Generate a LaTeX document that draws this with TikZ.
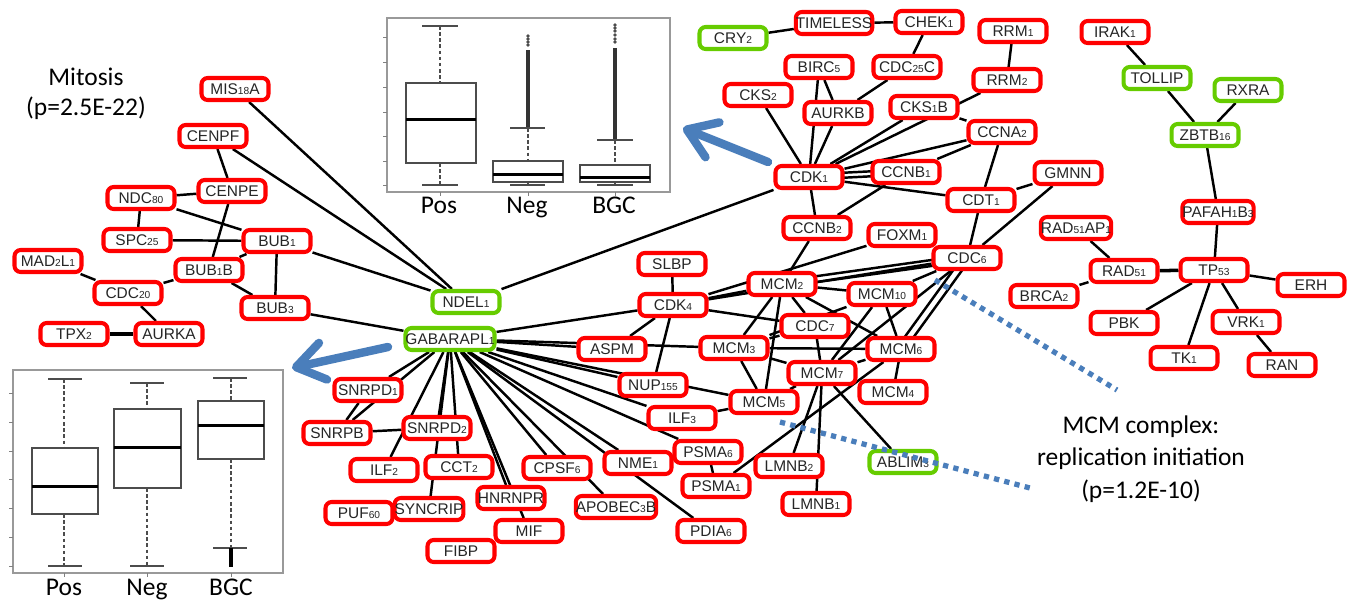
\documentclass[tikz,border=0pt]{standalone}
\usepackage{fontspec}
\setmainfont{Liberation Sans}
\newfontfamily\calfont{Carlito}
\usetikzlibrary{arrows.meta}
\definecolor{nred}{RGB}{255,0,0}
\definecolor{ngreen}{RGB}{102,204,0}
\definecolor{ablue}{RGB}{74,126,187}
\newcommand\dg[1]{{\fontsize{5.8}{6}\selectfont #1}}
\pgfdeclarelayer{bg}
\pgfsetlayers{bg,main}
\tikzset{
  gene/.style={draw=nred, line width=2.3pt, rounded corners=3.5pt, fill=white,
    minimum width=1.34cm, minimum height=0.44cm, inner sep=0pt,
    font=\fontsize{8.8}{10}\selectfont, text=black!85},
  ggene/.style={gene, draw=ngreen},
  edge/.style={line width=1.4pt, black},
  big/.style={font=\calfont\fontsize{14.5}{17}\selectfont, anchor=base},
  barrow/.style={ablue, line width=4.8pt, line cap=round,
    -{Straight Barb[length=5.5mm,width=7.5mm,line cap=round,line join=round]}},
  dots/.style={ablue, line width=3pt, dash pattern=on 3pt off 3pt},
  bframe/.style={draw=black!40, line width=0.7pt},
  bline/.style={black!70, line width=0.7pt},
  med/.style={black, line width=1.7pt},
  whisk/.style={black!70, line width=0.7pt, dash pattern=on 2pt off 1.5pt},
}
\begin{document}
\begin{tikzpicture}[x=0.02cm,y=-0.02cm]
\path[use as bounding box] (0,0) rectangle (1352,603);

% ---------- box plots ----------
% top
\draw[bframe] (387,18) rectangle (670,192);
\foreach \yy in {185,161,136,112,87,62,37} \draw[black!50,line width=0.5pt] (383,\yy) -- (387,\yy);
\foreach \xx in {440,528,615} \draw[black!50,line width=0.5pt] (\xx,192) -- (\xx,196);
\draw[whisk] (440,26) -- (440,83) (440,163) -- (440,185);
\draw[bline] (422,26) -- (458,26) (422,185) -- (458,185);
\draw[bline,fill=white] (406,83) rectangle (476,163);
\draw[med] (406,119) -- (476,119);
\draw[line width=1.8pt,black!80] (528,50) -- (528,128);
\foreach \yy in {36,39,42,45} \fill[black!70] (528,\yy) circle (1.1pt);
\draw[whisk] (528,128) -- (528,161);
\draw[bline] (510,128) -- (545,128) (510,185) -- (545,185) (528,182) -- (528,185);
\draw[bline,fill=white] (493,161) rectangle (563,182);
\draw[med] (493,174) -- (563,174);
\draw[line width=1.8pt,black!80] (615,48) -- (615,140);
\foreach \yy in {25,28,31,35,39,42} \fill[black!70] (615,\yy) circle (1.1pt);
\draw[whisk] (615,140) -- (615,165);
\draw[bline] (597,140) -- (633,140) (597,185) -- (633,185) (615,182) -- (615,185);
\draw[bline,fill=white] (580,165) rectangle (650,182);
\draw[med] (580,177) -- (650,177);
\node[big] (tpos) at (439,213) {Pos};
\node[big] (tneg) at (527,213) {Neg};
\node[big] (tbgc) at (614,213) {BGC};

% bottom
\draw[bframe] (13,370) rectangle (283,573);
\foreach \yy in {393,422,451,479,508,537,566} \draw[black!50,line width=0.5pt] (9,\yy) -- (13,\yy);
\foreach \xx in {64,147,231} \draw[black!50,line width=0.5pt] (\xx,573) -- (\xx,577);
\draw[whisk] (64,379) -- (64,448) (64,514) -- (64,566);
\draw[bline] (48,379) -- (82,379) (48,566) -- (82,566);
\draw[bline,fill=white] (32,448) rectangle (98,514);
\draw[med] (32,486) -- (98,486);
\draw[whisk] (147,383) -- (147,409) (147,488) -- (147,566);
\draw[bline] (130,383) -- (164,383) (130,566) -- (164,566);
\draw[bline,fill=white] (114,409) rectangle (181,488);
\draw[med] (114,447) -- (181,447);
\draw[whisk] (231,378) -- (231,401) (231,459) -- (231,548);
\draw[bline] (213,378) -- (247,378) (213,548) -- (247,548);
\draw[bline,fill=white] (198,401) rectangle (264,459);
\draw[med] (198,425) -- (264,425);
\draw[black,line width=2.2pt] (231,548) -- (231,567);
\node[big] (bpos) at (64,595) {Pos};
\node[big] (bneg) at (147,595) {Neg};
\node[big] (bbgc) at (231,595) {BGC};

% ---------- labels ----------
\node[big] (mit1) at (86,85) {Mitosis};
\node[big] (mit2) at (86,115) {(p=2.5E-22)};
\node[big] (mcm1) at (1141,433) {MCM complex:};
\node[big] (mcm2) at (1141,465) {replication initiation};
\node[big] (mcm3) at (1141,498) {(p=1.2E-10)};

% ---------- genes ----------
\node[gene] (MIS18A) at (235,89) {MIS\dg{18}A};
\node[gene] (CENPF) at (213,136) {CENPF};
\node[gene] (CENPE) at (232,191) {CENPE};
\node[gene] (NDC80) at (141,198) {NDC\dg{80}};
\node[gene] (SPC25) at (137,240) {SPC\dg{25}};
\node[gene] (BUB1) at (277,241) {BUB\dg{1}};
\node[gene] (MAD2L1) at (48,261) {MAD\dg{2}L\dg{1}};
\node[gene] (BUB1B) at (209,270) {BUB\dg{1}B};
\node[gene] (CDC20) at (128,293) {CDC\dg{20}};
\node[gene] (BUB3) at (275,308) {BUB\dg{3}};
\node[gene] (TPX2) at (74,334) {TPX\dg{2}};
\node[gene] (AURKA) at (169,334) {AURKA};
\node[ggene] (NDEL1) at (466,302) {NDEL\dg{1}};
\node[ggene,minimum width=1.74cm] (GABARAPL1) at (450,339) {GABARAPL\dg{1}};
\node[gene] (ASPM) at (612,349) {ASPM};
\node[gene] (CDK4) at (673,305) {CDK\dg{4}};
\node[gene] (SLBP) at (672,264) {SLBP};
\node[gene] (NUP155) at (653,385) {NUP\dg{155}};
\node[gene] (ILF3) at (682,418) {ILF\dg{3}};
\node[gene] (MCM3) at (734,348) {MCM\dg{3}};
\node[gene] (MCM2) at (782,284) {MCM\dg{2}};
\node[gene] (CDC7) at (815,326) {CDC\dg{7}};
\node[gene] (MCM7) at (822,373) {MCM\dg{7}};
\node[gene] (MCM5) at (764,402) {MCM\dg{5}};
\node[gene] (MCM10) at (882,294) {MCM\dg{10}};
\node[gene] (MCM6) at (901,349) {MCM\dg{6}};
\node[gene] (MCM4) at (893,392) {MCM\dg{4}};
\node[gene] (FOXM1) at (902,235) {FOXM\dg{1}};
\node[gene] (CDC6) at (967,258) {CDC\dg{6}};
\node[gene] (BRCA2) at (1044,296) {BRCA\dg{2}};
\node[ggene] (ABLIM3) at (903,462) {ABLIM\dg{3}};
\node[gene] (LMNB2) at (789,466) {LMNB\dg{2}};
\node[gene] (LMNB1) at (816,504) {LMNB\dg{1}};
\node[gene] (PSMA6) at (708,452) {PSMA\dg{6}};
\node[gene] (PSMA1) at (716,486) {PSMA\dg{1}};
\node[gene] (NME1) at (638,463) {NME\dg{1}};
\node[gene] (PDIA6) at (711,531) {PDIA\dg{6}};
\node[gene,minimum width=1.5cm] (APOBEC3B) at (616,507) {APOBEC\dg{3}B};
\node[gene] (CPSF6) at (557,468) {CPSF\dg{6}};
\node[gene] (SNRPD1) at (368,390) {SNRPD\dg{1}};
\node[gene] (SNRPB) at (337,433) {SNRPB};
\node[gene] (SNRPD2) at (437,428) {SNRPD\dg{2}};
\node[gene] (ILF2) at (384,470) {ILF\dg{2}};
\node[gene] (CCT2) at (459,467) {CCT\dg{2}};
\node[gene] (HNRNPR) at (511,498) {HNRNPR};
\node[gene] (PUF60) at (359,513) {PUF\dg{60}};
\node[gene] (SYNCRIP) at (429,509) {SYNCRIP};
\node[gene] (FIBP) at (461,551) {FIBP};
\node[gene] (MIF) at (529,531) {MIF};
\node[ggene] (CRY2) at (733,38) {CRY\dg{2}};
\node[gene,minimum width=1.48cm] (TIMELESS) at (834,23) {TIMELESS};
\node[gene] (CHEK1) at (929,22) {CHEK\dg{1}};
\node[gene] (RRM1) at (1013,31) {RRM\dg{1}};
\node[gene] (BIRC5) at (819,67) {BIRC\dg{5}};
\node[gene] (CDC25C) at (907,67) {CDC\dg{25}C};
\node[gene] (RRM2) at (1007,80) {RRM\dg{2}};
\node[gene] (CKS2) at (758,95) {CKS\dg{2}};
\node[gene] (AURKB) at (838,113) {AURKB};
\node[gene] (CKS1B) at (924,107) {CKS\dg{1}B};
\node[gene] (CCNA2) at (1002,132) {CCNA\dg{2}};
\node[gene] (CDK1) at (809,177) {CDK\dg{1}};
\node[gene] (CCNB1) at (906,172) {CCNB\dg{1}};
\node[gene] (CDT1) at (981,200) {CDT\dg{1}};
\node[gene] (GMNN) at (1068,173) {GMNN};
\node[gene] (CCNB2) at (817,228) {CCNB\dg{2}};
\node[gene] (RAD51AP1) at (1076,228) {RAD\dg{51}AP\dg{1}};
\node[gene] (IRAK1) at (1115,32) {IRAK\dg{1}};
\node[ggene] (TOLLIP) at (1157,78) {TOLLIP};
\node[ggene] (RXRA) at (1248,90) {RXRA};
\node[ggene] (ZBTB16) at (1205,135) {ZBTB\dg{16}};
\node[gene] (PAFAH1B3) at (1218,212) {PAFAH\dg{1}B\dg{3}};
\node[gene] (RAD51) at (1124,271) {RAD\dg{51}};
\node[gene] (TP53) at (1214,270) {TP\dg{53}};
\node[gene] (ERH) at (1311,285) {ERH};
\node[gene] (PBK) at (1124,323) {PBK};
\node[gene] (VRK1) at (1246,322) {VRK\dg{1}};
\node[gene] (TK1) at (1184,358) {TK\dg{1}};
\node[gene] (RAN) at (1282,365) {RAN};

% ---------- edges ----------
\begin{pgfonlayer}{bg}
\foreach \a/\b in {MIS18A/NDEL1, CENPF/CENPE, CENPF/NDEL1, NDC80/CENPE, NDC80/SPC25,
  NDC80/BUB1, SPC25/BUB1, CENPE/BUB1B, BUB1/BUB3, BUB1/NDEL1, BUB1B/BUB1, BUB1B/CDC20,
  BUB1B/BUB3, MAD2L1/CDC20, CDC20/AURKA, BUB3/GABARAPL1, NDEL1/CDK1,
  GABARAPL1/CDK4, GABARAPL1/ASPM, GABARAPL1/MCM3, GABARAPL1/MCM5, GABARAPL1/NUP155,
  GABARAPL1/ILF3, GABARAPL1/PSMA6, GABARAPL1/NME1, GABARAPL1/PDIA6, GABARAPL1/CPSF6,
  GABARAPL1/APOBEC3B, GABARAPL1/MIF, GABARAPL1/HNRNPR, GABARAPL1/CCT2, GABARAPL1/SYNCRIP,
  GABARAPL1/SNRPD2, GABARAPL1/ILF2, GABARAPL1/SNRPD1, GABARAPL1/SNRPB, SNRPD1/SNRPB,
  SNRPB/SNRPD2,
  CDK4/SLBP, CDK4/ASPM, CDK4/NUP155, CDK4/MCM2, CDK4/FOXM1, CDK4/CDC7, CDK4/CDC6,
  MCM2/MCM10, MCM2/MCM3, MCM2/MCM5, MCM2/CDC7, MCM2/MCM6, MCM2/CCNB2,
  MCM3/MCM5, MCM3/MCM6, MCM3/CDC7, MCM3/MCM7, MCM3/MCM10, MCM5/MCM7, MCM5/ILF3,
  MCM7/CDC6, MCM7/MCM10, MCM7/MCM6, MCM7/ABLIM3, MCM7/LMNB2, MCM7/LMNB1, MCM7/CDC7,
  MCM6/MCM10, MCM6/MCM4, MCM6/PSMA1, MCM10/CDC6, PSMA6/PSMA1,
  CDK1/CKS2, CDK1/BIRC5, CDK1/AURKB, BIRC5/AURKB, AURKB/CDC25C, CDC25C/CHEK1,
  CHEK1/TIMELESS, TIMELESS/CRY2, CDK1/CKS1B, CDK1/RRM2, RRM2/RRM1, CDK1/CCNA2,
  CKS1B/CCNA2, CCNB1/CCNA2, CDK1/CDT1, CDK1/CCNB2, CCNB2/CCNB1, CCNA2/CDT1, CDT1/GMNN,
  CDT1/CDC6, GMNN/CDC6,
  RAD51AP1/RAD51, RAD51/BRCA2, TP53/PAFAH1B3, PAFAH1B3/ZBTB16, ZBTB16/TOLLIP,
  ZBTB16/RXRA, TOLLIP/IRAK1, TP53/ERH, TP53/PBK, TP53/TK1, TP53/VRK1, VRK1/RAN}
  \draw[edge] (\a) -- (\b);
\draw[edge,line width=2pt] (TPX2) -- (AURKA);
\draw[edge,line width=2pt] (RAD51) -- (TP53);
\draw[edge] ([yshift=0.05cm]CDK1.center) -- ([yshift=0.05cm]CCNB1.center);
\draw[edge] ([yshift=-0.05cm]CDK1.center) -- ([yshift=-0.05cm]CCNB1.center);
\draw[edge] ([yshift=0.06cm]MCM2.center) -- ([yshift=0.06cm]CDC6.center);
\draw[edge] ([yshift=-0.06cm]MCM2.center) -- ([yshift=-0.06cm]CDC6.center);
\draw[edge] ([xshift=0.08cm]MCM6.center) -- ([xshift=0.08cm]CDC6.center);
\draw[edge] ([xshift=-0.1cm]MCM6.center) -- ([xshift=-0.1cm]CDC6.center);
\end{pgfonlayer}

% ---------- arrows and dotted links ----------
\coordinate (a1s) at (768,162);
\coordinate (a1e) at (683,128);
\coordinate (a2s) at (388,347);
\coordinate (a2e) at (292,368);
\draw[barrow] (a1s) -- (a1e);
\draw[barrow] (a2s) -- (a2e);
\coordinate (d1s) at (935,280);
\coordinate (d1e) at (1117,390);
\coordinate (d2s) at (780,422);
\coordinate (d2e) at (1030,488);
\draw[dots] (d1s) -- (d1e);
\draw[dots] (d2s) -- (d2e);
\end{tikzpicture}
\end{document}
